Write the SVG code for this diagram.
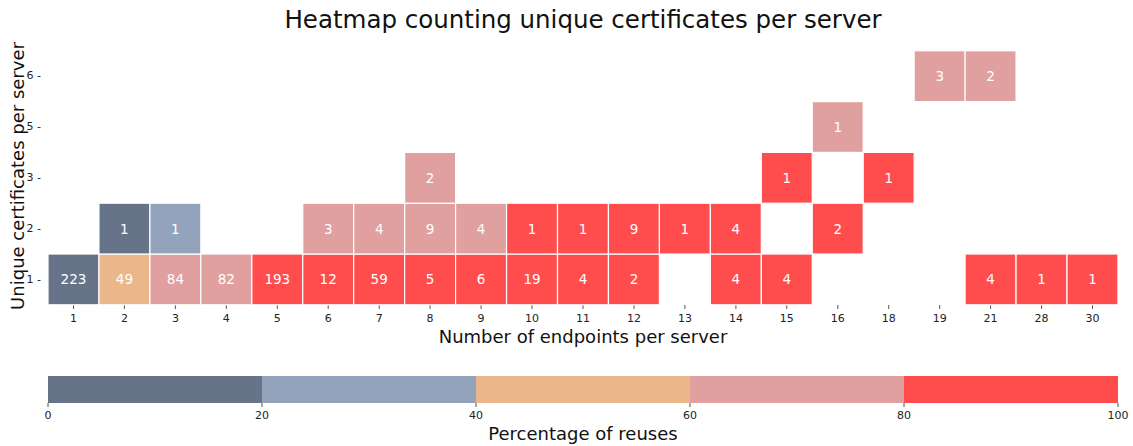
<svg xmlns="http://www.w3.org/2000/svg" width="1133" height="446" viewBox="0 0 1133 446">
  <style>
    text { font-family: "DejaVu Sans", sans-serif; }
    .title { font-size: 24.5px; fill: #111111; text-anchor: middle; }
    .axlabel { font-size: 18px; fill: #111111; text-anchor: middle; }
    .tick { font-size: 11px; fill: #222222; }
    .xt { text-anchor: middle; }
    .yt { text-anchor: end; }
    .cell rect { stroke: #ffffff; stroke-width: 1.2; }
    .cell text { font-size: 13.5px; fill: #ffffff; text-anchor: middle; dominant-baseline: central; }
    .c0 { fill: #677389; }
    .c1 { fill: #93a3bb; }
    .c2 { fill: #e9b78a; }
    .c3 { fill: #e0a0a0; }
    .c4 { fill: #ff4d4d; }
    .tk { stroke: #555555; stroke-width: 1; }
  </style>

  <text class="title" x="583" y="28">Heatmap counting unique certificates per server</text>

  <!-- y axis ticks and labels -->
  <g id="y-axis">
    <text class="tick yt" x="41" y="283">1 -</text>
    <text class="tick yt" x="41" y="232">2 -</text>
    <text class="tick yt" x="41" y="181">3 -</text>
    <text class="tick yt" x="41" y="130">5 -</text>
    <text class="tick yt" x="41" y="79">6 -</text>
    <text class="axlabel" transform="translate(24,176) rotate(-90)">Unique certificates per server</text>
  </g>

  <!-- x axis ticks and labels -->
  <g id="x-axis">
    <g class="tk">
      <line x1="73.5" y1="305" x2="73.5" y2="309"/>
      <line x1="124.4" y1="305" x2="124.4" y2="309"/>
      <line x1="175.4" y1="305" x2="175.4" y2="309"/>
      <line x1="226.3" y1="305" x2="226.3" y2="309"/>
      <line x1="277.3" y1="305" x2="277.3" y2="309"/>
      <line x1="328.2" y1="305" x2="328.2" y2="309"/>
      <line x1="379.2" y1="305" x2="379.2" y2="309"/>
      <line x1="430.1" y1="305" x2="430.1" y2="309"/>
      <line x1="481.1" y1="305" x2="481.1" y2="309"/>
      <line x1="532" y1="305" x2="532" y2="309"/>
      <line x1="583" y1="305" x2="583" y2="309"/>
      <line x1="634" y1="305" x2="634" y2="309"/>
      <line x1="684.9" y1="305" x2="684.9" y2="309"/>
      <line x1="735.9" y1="305" x2="735.9" y2="309"/>
      <line x1="786.8" y1="305" x2="786.8" y2="309"/>
      <line x1="837.8" y1="305" x2="837.8" y2="309"/>
      <line x1="888.7" y1="305" x2="888.7" y2="309"/>
      <line x1="939.7" y1="305" x2="939.7" y2="309"/>
      <line x1="990.6" y1="305" x2="990.6" y2="309"/>
      <line x1="1041.6" y1="305" x2="1041.6" y2="309"/>
      <line x1="1092.5" y1="305" x2="1092.5" y2="309"/>
    </g>
    <text class="tick xt" x="73.5" y="322">1</text>
    <text class="tick xt" x="124.4" y="322">2</text>
    <text class="tick xt" x="175.4" y="322">3</text>
    <text class="tick xt" x="226.3" y="322">4</text>
    <text class="tick xt" x="277.3" y="322">5</text>
    <text class="tick xt" x="328.2" y="322">6</text>
    <text class="tick xt" x="379.2" y="322">7</text>
    <text class="tick xt" x="430.1" y="322">8</text>
    <text class="tick xt" x="481.1" y="322">9</text>
    <text class="tick xt" x="532" y="322">10</text>
    <text class="tick xt" x="583" y="322">11</text>
    <text class="tick xt" x="634" y="322">12</text>
    <text class="tick xt" x="684.9" y="322">13</text>
    <text class="tick xt" x="735.9" y="322">14</text>
    <text class="tick xt" x="786.8" y="322">15</text>
    <text class="tick xt" x="837.8" y="322">16</text>
    <text class="tick xt" x="888.7" y="322">18</text>
    <text class="tick xt" x="939.7" y="322">19</text>
    <text class="tick xt" x="990.6" y="322">21</text>
    <text class="tick xt" x="1041.6" y="322">28</text>
    <text class="tick xt" x="1092.5" y="322">30</text>
    <text class="axlabel" x="583" y="343">Number of endpoints per server</text>
  </g>

  <!-- heatmap cells: column width 50.95, row height 50.8 -->
  <g id="cells" class="cell">
    <!-- row 1 -->
    <rect class="c0" x="48" y="254" width="50.95" height="50.8"/><text x="73.5" y="279.4">223</text>
    <rect class="c2" x="98.95" y="254" width="50.95" height="50.8"/><text x="124.4" y="279.4">49</text>
    <rect class="c3" x="149.9" y="254" width="50.95" height="50.8"/><text x="175.4" y="279.4">84</text>
    <rect class="c3" x="200.85" y="254" width="50.95" height="50.8"/><text x="226.3" y="279.4">82</text>
    <rect class="c4" x="251.8" y="254" width="50.95" height="50.8"/><text x="277.3" y="279.4">193</text>
    <rect class="c4" x="302.75" y="254" width="50.95" height="50.8"/><text x="328.2" y="279.4">12</text>
    <rect class="c4" x="353.7" y="254" width="50.95" height="50.8"/><text x="379.2" y="279.4">59</text>
    <rect class="c4" x="404.65" y="254" width="50.95" height="50.8"/><text x="430.1" y="279.4">5</text>
    <rect class="c4" x="455.6" y="254" width="50.95" height="50.8"/><text x="481.1" y="279.4">6</text>
    <rect class="c4" x="506.55" y="254" width="50.95" height="50.8"/><text x="532" y="279.4">19</text>
    <rect class="c4" x="557.5" y="254" width="50.95" height="50.8"/><text x="583" y="279.4">4</text>
    <rect class="c4" x="608.45" y="254" width="50.95" height="50.8"/><text x="634" y="279.4">2</text>
    <rect class="c4" x="710.35" y="254" width="50.95" height="50.8"/><text x="735.9" y="279.4">4</text>
    <rect class="c4" x="761.3" y="254" width="50.95" height="50.8"/><text x="786.8" y="279.4">4</text>
    <rect class="c4" x="965.1" y="254" width="50.95" height="50.8"/><text x="990.6" y="279.4">4</text>
    <rect class="c4" x="1016.05" y="254" width="50.95" height="50.8"/><text x="1041.6" y="279.4">1</text>
    <rect class="c4" x="1067" y="254" width="50.95" height="50.8"/><text x="1092.5" y="279.4">1</text>
    <!-- row 2 -->
    <rect class="c0" x="98.95" y="203.2" width="50.95" height="50.8"/><text x="124.4" y="228.6">1</text>
    <rect class="c1" x="149.9" y="203.2" width="50.95" height="50.8"/><text x="175.4" y="228.6">1</text>
    <rect class="c3" x="302.75" y="203.2" width="50.95" height="50.8"/><text x="328.2" y="228.6">3</text>
    <rect class="c3" x="353.7" y="203.2" width="50.95" height="50.8"/><text x="379.2" y="228.6">4</text>
    <rect class="c3" x="404.65" y="203.2" width="50.95" height="50.8"/><text x="430.1" y="228.6">9</text>
    <rect class="c3" x="455.6" y="203.2" width="50.95" height="50.8"/><text x="481.1" y="228.6">4</text>
    <rect class="c4" x="506.55" y="203.2" width="50.95" height="50.8"/><text x="532" y="228.6">1</text>
    <rect class="c4" x="557.5" y="203.2" width="50.95" height="50.8"/><text x="583" y="228.6">1</text>
    <rect class="c4" x="608.45" y="203.2" width="50.95" height="50.8"/><text x="634" y="228.6">9</text>
    <rect class="c4" x="659.4" y="203.2" width="50.95" height="50.8"/><text x="684.9" y="228.6">1</text>
    <rect class="c4" x="710.35" y="203.2" width="50.95" height="50.8"/><text x="735.9" y="228.6">4</text>
    <rect class="c4" x="812.25" y="203.2" width="50.95" height="50.8"/><text x="837.8" y="228.6">2</text>
    <!-- row 3 -->
    <rect class="c3" x="404.65" y="152.4" width="50.95" height="50.8"/><text x="430.1" y="177.8">2</text>
    <rect class="c4" x="761.3" y="152.4" width="50.95" height="50.8"/><text x="786.8" y="177.8">1</text>
    <rect class="c4" x="863.2" y="152.4" width="50.95" height="50.8"/><text x="888.7" y="177.8">1</text>
    <!-- row 5 -->
    <rect class="c3" x="812.25" y="101.6" width="50.95" height="50.8"/><text x="837.8" y="127">1</text>
    <!-- row 6 -->
    <rect class="c3" x="914.15" y="50.8" width="50.95" height="50.8"/><text x="939.7" y="76.2">3</text>
    <rect class="c3" x="965.1" y="50.8" width="50.95" height="50.8"/><text x="990.6" y="76.2">2</text>
  </g>

  <!-- colour bar -->
  <g id="colorbar">
    <rect class="c0" x="48" y="376" width="214" height="27"/>
    <rect class="c1" x="262" y="376" width="214" height="27"/>
    <rect class="c2" x="476" y="376" width="214" height="27"/>
    <rect class="c3" x="690" y="376" width="214" height="27"/>
    <rect class="c4" x="904" y="376" width="214" height="27"/>
    <g class="tk">
      <line x1="48" y1="403" x2="48" y2="407"/>
      <line x1="262" y1="403" x2="262" y2="407"/>
      <line x1="476" y1="403" x2="476" y2="407"/>
      <line x1="690" y1="403" x2="690" y2="407"/>
      <line x1="904" y1="403" x2="904" y2="407"/>
      <line x1="1118" y1="403" x2="1118" y2="407"/>
    </g>
    <text class="tick xt" x="48" y="419">0</text>
    <text class="tick xt" x="262" y="419">20</text>
    <text class="tick xt" x="476" y="419">40</text>
    <text class="tick xt" x="690" y="419">60</text>
    <text class="tick xt" x="904" y="419">80</text>
    <text class="tick xt" x="1118" y="419">100</text>
    <text class="axlabel" x="583" y="440">Percentage of reuses</text>
  </g>
</svg>
